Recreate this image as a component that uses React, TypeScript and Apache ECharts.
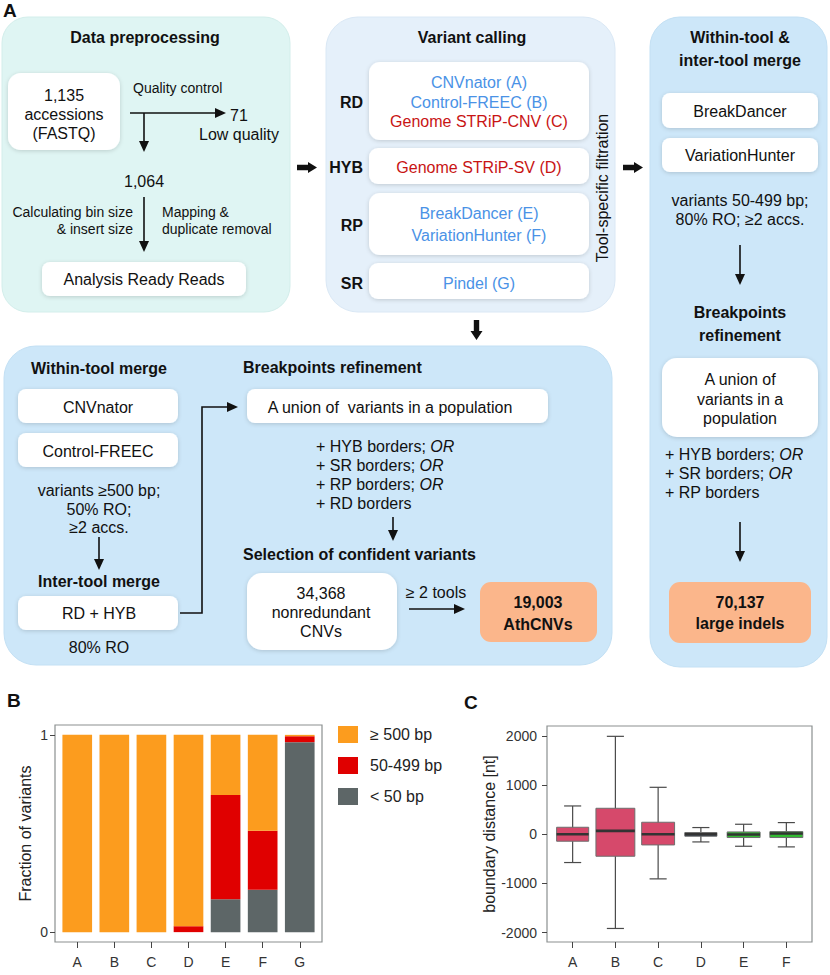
import React, { useEffect, useRef } from "react";
import * as echarts from "echarts";

// ---------- Panel B data ----------
const toolsB = ["A", "B", "C", "D", "E", "F", "G"];
const sizeClasses = ["≥ 500 bp", "50-499 bp", "< 50 bp"];
const fracGe500 = [1, 1, 1, 0.97, 0.305, 0.486, 0.007];
const frac50to499 = [0, 0, 0, 0.03, 0.528, 0.299, 0.03];
const fracLt50 = [0, 0, 0, 0, 0.167, 0.215, 0.963];
const fracTicks = [0, 1];

// ---------- Panel C data ----------
const toolsC = ["A", "B", "C", "D", "E", "F"];
const whiskerLow = [-575, -1915, -907, -156, -244, -257];
const quart1 = [-142, -447, -217, -40, -67, -67];
const medians = [0, 68, 0, 0, -5, 15];
const quart3 = [142, 528, 244, 35, 47, 54];
const whiskerHigh = [575, 1990, 954, 136, 203, 237];
const distTicks = [-2000, -1000, 0, 1000, 2000];

// ---------- styles ----------
const FONT = '"Liberation Sans", Arial, Helvetica, sans-serif';
const BLUE = "#4a92e6";
const RED = "#c81414";
const BAR_COLORS = ["#fc9c1e", "#e00000", "#5d6667"]; // same order as sizeClasses
const BOX_COLORS = ["#d6496b", "#d6496b", "#d6496b", "#3f4d5e", "#31bb31", "#31bb31"];
const BOX_WIDTH = [0.75, 0.91, 0.77, 0.75, 0.77, 0.77];
const BAR_WIDTH = 0.8;

type Opt = { size?: number; bold?: boolean; color?: string; align?: string; rot?: number; rich?: any };

function buildGraphics() {
  const g: any[] = [];
  const rect = (x: number, y: number, w: number, h: number, r: number, fill: string, z: number, extra: any = {}) =>
    g.push({ type: "rect", silent: true, z, shape: { x, y, width: w, height: h, r }, style: { fill, ...extra } });
  const white = (x: number, y: number, w: number, h: number, r = 9) =>
    rect(x, y, w, h, r, "#ffffff", 2, { shadowBlur: 4, shadowColor: "rgba(0,0,0,0.16)", shadowOffsetY: 1 });
  const txt = (text: string, x: number, y: number, o: Opt = {}) =>
    g.push({
      type: "text",
      silent: true,
      z: 5,
      x,
      y,
      rotation: o.rot ?? 0,
      style: {
        text,
        fill: o.color ?? "#111",
        fontSize: o.size ?? 16,
        fontWeight: o.bold ? "bold" : "normal",
        fontFamily: FONT,
        align: o.align ?? "center",
        verticalAlign: "middle",
        rich: o.rich,
      },
    });
  const ital = { i: { fontStyle: "italic", fontSize: 16, fontFamily: FONT, fill: "#111" } };
  const line = (pts: number[][], w = 1.6) =>
    g.push({ type: "polyline", silent: true, z: 4, shape: { points: pts }, style: { stroke: "#111", lineWidth: w, fill: null } });
  const poly = (pts: number[][]) =>
    g.push({ type: "polygon", silent: true, z: 4, shape: { points: pts }, style: { fill: "#111" } });
  const vArrow = (x: number, y1: number, y2: number) => {
    line([[x, y1], [x, y2 - 9]]);
    poly([[x - 5, y2 - 11], [x + 5, y2 - 11], [x, y2]]);
  };
  const hArrow = (x1: number, x2: number, y: number) => {
    line([[x1, y], [x2 - 9, y]]);
    poly([[x2 - 11, y - 5], [x2 - 11, y + 5], [x2, y]]);
  };
  const fatRight = (x1: number, x2: number, y: number) =>
    poly([[x1, y - 2.7], [x2 - 9, y - 2.7], [x2 - 9, y - 5.5], [x2, y], [x2 - 9, y + 5.5], [x2 - 9, y + 2.7], [x1, y + 2.7]]);
  const fatDown = (x: number, y1: number, y2: number) =>
    poly([[x - 2.7, y1], [x + 2.7, y1], [x + 2.7, y2 - 9], [x + 6, y2 - 9], [x, y2], [x - 6, y2 - 9], [x - 2.7, y2 - 9]]);

  // panel letters
  txt("A", 3, 10, { bold: true, size: 19, align: "left" });
  txt("B", 7, 700, { bold: true, size: 19, align: "left" });
  txt("C", 464, 702, { bold: true, size: 19, align: "left" });

  // ---- Data preprocessing ----
  rect(2, 17, 288, 295, 26, "#dff5f3", 1, { stroke: "#d3eeeb", lineWidth: 1 });
  txt("Data preprocessing", 145, 37, { bold: true });
  white(8, 73, 112, 77, 13);
  txt("1,135", 64, 95);
  txt("accessions", 64, 114);
  txt("(FASTQ)", 64, 133);
  txt("Quality control", 133, 88, { size: 14, align: "left" });
  hArrow(130, 226, 113);
  txt("71", 230, 115, { align: "left" });
  txt("Low quality", 199, 134, { align: "left" });
  vArrow(144, 113, 152);
  txt("1,064", 144, 181);
  vArrow(144, 197, 252);
  txt("Calculating bin size", 133, 212, { size: 14, align: "right" });
  txt("& insert size", 133, 229, { size: 14, align: "right" });
  txt("Mapping &", 162, 212, { size: 14, align: "left" });
  txt("duplicate removal", 162, 229, { size: 14, align: "left" });
  white(42, 262, 204, 34, 8);
  txt("Analysis Ready Reads", 144, 279);

  fatRight(297, 317, 167.5);

  // ---- Variant calling ----
  rect(326, 17, 289, 295, 32, "#e5f0fa", 1, { stroke: "#dae8f5", lineWidth: 1 });
  txt("Variant calling", 472, 37, { bold: true });
  white(369, 62, 220, 78, 11);
  white(369, 148, 220, 36, 9);
  white(369, 193, 220, 62, 11);
  white(369, 263, 220, 36, 9);
  txt("RD", 363, 102, { bold: true, align: "right" });
  txt("HYB", 363, 167, { bold: true, align: "right" });
  txt("RP", 363, 225, { bold: true, align: "right" });
  txt("SR", 363, 283, { bold: true, align: "right" });
  txt("CNVnator (A)", 479, 82, { color: BLUE });
  txt("Control-FREEC (B)", 479, 102, { color: BLUE });
  txt("Genome STRiP-CNV (C)", 479, 121, { color: RED });
  txt("Genome STRiP-SV (D)", 479, 167, { color: RED });
  txt("BreakDancer (E)", 479, 213, { color: BLUE });
  txt("VariationHunter (F)", 479, 235, { color: BLUE });
  txt("Pindel (G)", 479, 283, { color: BLUE });
  txt("Tool-specific filtration", 602, 188, { rot: Math.PI / 2 });

  fatRight(623, 643, 167.5);
  fatDown(476.5, 320, 340);

  // ---- Right panel ----
  rect(650, 17, 177, 650, 30, "#cde7f9", 1, { stroke: "#c3e0f4", lineWidth: 1 });
  txt("Within-tool &", 740, 37, { bold: true });
  txt("inter-tool merge", 740, 60, { bold: true });
  white(662, 93, 156, 35, 8);
  txt("BreakDancer", 740, 111);
  white(662, 138, 156, 34, 8);
  txt("VariationHunter", 740, 155);
  txt("variants 50-499 bp;", 740, 200);
  txt("80% RO; ≥2 accs.", 740, 219);
  vArrow(740, 245, 285);
  txt("Breakpoints", 740, 312, { bold: true });
  txt("refinement", 740, 335, { bold: true });
  white(662, 358, 156, 79, 15);
  txt("A union of", 740, 379);
  txt("variants in a", 740, 399);
  txt("population", 740, 418);
  txt("+ HYB borders; {i|OR}", 665, 454, { align: "left", rich: ital });
  txt("+ SR borders; {i|OR}", 665, 473, { align: "left", rich: ital });
  txt("+ RP borders", 665, 492, { align: "left" });
  vArrow(740, 522, 562);
  rect(669, 582, 142, 61, 11, "#fbb68b", 2);
  txt("70,137", 740, 602, { bold: true });
  txt("large indels", 740, 623, { bold: true });

  // ---- Bottom-left panel ----
  rect(4, 346, 608, 319, 32, "#cde7f9", 1, { stroke: "#c3e0f4", lineWidth: 1 });
  txt("Within-tool merge", 99, 368, { bold: true });
  white(18, 389, 160, 34, 8);
  txt("CNVnator", 98, 407);
  white(18, 433, 160, 34, 8);
  txt("Control-FREEC", 98, 451);
  txt("variants ≥500 bp;", 99, 490);
  txt("50% RO;", 99, 509);
  txt("≥2 accs.", 99, 527);
  vArrow(99, 537, 570);
  txt("Inter-tool merge", 99, 581, { bold: true });
  white(18, 596, 160, 34, 8);
  txt("RD + HYB", 99, 613);
  txt("80% RO", 99, 647);
  line([[180, 613], [202, 613], [202, 407], [229, 407]]);
  poly([[227, 402], [227, 412], [238, 407]]);

  txt("Breakpoints refinement", 243, 367, { bold: true, align: "left" });
  white(247, 389, 301, 34, 8);
  txt("A union of  variants in a population", 390, 407);
  txt("+ HYB borders; {i|OR}", 316, 446, { align: "left", rich: ital });
  txt("+ SR borders; {i|OR}", 316, 465, { align: "left", rich: ital });
  txt("+ RP borders; {i|OR}", 316, 484, { align: "left", rich: ital });
  txt("+ RD borders", 316, 503, { align: "left" });
  vArrow(393, 517, 541);
  txt("Selection of confident variants", 243, 554, { bold: true, align: "left" });
  white(247, 573, 150, 77, 15);
  txt("34,368", 321, 593);
  txt("nonredundant", 321, 612);
  txt("CNVs", 321, 631);
  txt("≥ 2 tools", 436, 592);
  hArrow(409, 465, 609);
  rect(480, 582, 117, 60, 11, "#fbb68b", 2);
  txt("19,003", 538, 602, { bold: true });
  txt("AthCNVs", 538, 624, { bold: true });

  return g;
}

export default function App() {
  const ref = useRef<HTMLDivElement>(null);
  useEffect(() => {
    if (!ref.current) return;
    const chart = echarts.init(ref.current, undefined, { renderer: "svg" });

    const xB = toolsB.map((_, i) => i + 1);
    const xC = toolsC.map((_, i) => i + 1);
    const boxData = toolsC.map((_, i) => [i + 1, whiskerLow[i], quart1[i], medians[i], quart3[i], whiskerHigh[i]]);

    // stacked segments, bottom to top: < 50, 50-499, >= 500
    const stackOrder = [fracLt50, frac50to499, fracGe500];
    const segData = stackOrder.map((vals, s) =>
      xB.map((x, i) => {
        let base = 0;
        for (let k = 0; k < s; k++) base += stackOrder[k][i];
        return [x, base, base + vals[i]];
      })
    );
    const segNames = [sizeClasses[2], sizeClasses[1], sizeClasses[0]];
    const segColors = [BAR_COLORS[2], BAR_COLORS[1], BAR_COLORS[0]];

    const barSeries = segData.map((data, s) => ({
      name: segNames[s],
      type: "custom",
      xAxisIndex: 0,
      yAxisIndex: 0,
      itemStyle: { color: segColors[s] },
      encode: { x: 0, y: [1, 2] },
      data,
      renderItem: (_p: any, api: any) => {
        const x = api.value(0);
        const lo = api.coord([x, api.value(1)]);
        const hi = api.coord([x, api.value(2)]);
        const w = api.size([BAR_WIDTH, 0])[0];
        return {
          type: "rect",
          shape: { x: lo[0] - w / 2, y: hi[1], width: w, height: lo[1] - hi[1] },
          style: { fill: segColors[s] },
        };
      },
    }));

    const axisTxt = { fontSize: 14, color: "#333", fontFamily: FONT };
    const tick = { show: true, length: 6, lineStyle: { color: "#444", width: 1 } };

    const option: any = {
      animation: false,
      backgroundColor: "#ffffff",
      textStyle: { fontFamily: FONT },
      graphic: buildGraphics(),
      grid: [
        { left: 55, top: 725, width: 267, height: 217, show: true, borderColor: "#8b9090", borderWidth: 1.2, backgroundColor: "transparent" },
        { left: 547, top: 726, width: 265, height: 216, show: true, borderColor: "#8b9090", borderWidth: 1.2, backgroundColor: "transparent" },
      ],
      legend: {
        left: 338,
        top: 726,
        orient: "vertical",
        padding: 0,
        itemWidth: 20,
        itemHeight: 17,
        itemGap: 14,
        icon: "rect",
        selectedMode: false,
        data: sizeClasses,
        textStyle: { fontSize: 16, color: "#222", fontFamily: FONT, padding: [0, 0, 0, 7] },
      },
      xAxis: [
        {
          gridIndex: 0,
          type: "value",
          min: 0.4,
          max: 7.6,
          splitLine: { show: false },
          axisLine: { show: false, onZero: false },
          axisTick: { ...tick, customValues: xB },
          axisLabel: { ...axisTxt, margin: 13, customValues: xB, formatter: (v: number) => toolsB[Math.round(v) - 1] ?? "" },
        },
        {
          gridIndex: 1,
          type: "value",
          min: 0.4,
          max: 6.6,
          splitLine: { show: false },
          axisLine: { show: false, onZero: false },
          axisTick: { ...tick, customValues: xC },
          axisLabel: { ...axisTxt, margin: 13, customValues: xC, formatter: (v: number) => toolsC[Math.round(v) - 1] ?? "" },
        },
      ],
      yAxis: [
        {
          gridIndex: 0,
          type: "value",
          min: -0.05,
          max: 1.05,
          splitLine: { show: false },
          axisLine: { show: false, onZero: false },
          axisTick: { ...tick, length: 5, customValues: fracTicks },
          axisLabel: { ...axisTxt, margin: 7, customValues: fracTicks, formatter: (v: number) => String(v) },
          name: "Fraction of variants",
          nameLocation: "middle",
          nameGap: 22,
          nameTextStyle: { fontSize: 16, color: "#222", fontFamily: FONT },
        },
        {
          gridIndex: 1,
          type: "value",
          min: -2190,
          max: 2200,
          splitLine: { show: false },
          axisLine: { show: false, onZero: false },
          axisTick: { ...tick, length: 5, customValues: distTicks },
          axisLabel: { ...axisTxt, margin: 10, customValues: distTicks, formatter: (v: number) => String(v) },
          name: "boundary distance [nt]",
          nameLocation: "middle",
          nameGap: 49,
          nameTextStyle: { fontSize: 16, color: "#222", fontFamily: FONT },
        },
      ],
      series: [
        ...barSeries,
        {
          type: "custom",
          xAxisIndex: 1,
          yAxisIndex: 1,
          encode: { x: 0, y: [1, 2, 3, 4, 5] },
          data: boxData,
          renderItem: (params: any, api: any) => {
            const x = api.value(0);
            const lo = api.coord([x, api.value(1)]);
            const q1 = api.coord([x, api.value(2)]);
            const md = api.coord([x, api.value(3)]);
            const q3 = api.coord([x, api.value(4)]);
            const hi = api.coord([x, api.value(5)]);
            const unit = api.size([1, 0])[0];
            const bw = unit * BOX_WIDTH[params.dataIndex];
            const cw = unit * 0.4;
            const cx = lo[0];
            const ws = { stroke: "#4a4a4a", lineWidth: 1.2 };
            return {
              type: "group",
              children: [
                { type: "line", shape: { x1: cx, y1: hi[1], x2: cx, y2: lo[1] }, style: ws },
                { type: "line", shape: { x1: cx - cw / 2, y1: hi[1], x2: cx + cw / 2, y2: hi[1] }, style: ws },
                { type: "line", shape: { x1: cx - cw / 2, y1: lo[1], x2: cx + cw / 2, y2: lo[1] }, style: ws },
                {
                  type: "rect",
                  shape: { x: cx - bw / 2, y: q3[1], width: bw, height: q1[1] - q3[1] },
                  style: { fill: BOX_COLORS[params.dataIndex], stroke: "#6e6e6e", lineWidth: 1 },
                },
                { type: "line", shape: { x1: cx - bw / 2, y1: md[1], x2: cx + bw / 2, y2: md[1] }, style: { stroke: "#333", lineWidth: 2.6 } },
              ],
            };
          },
        },
      ],
    };
    chart.setOption(option);
    return () => chart.dispose();
  }, []);

  return (
    <div
      ref={ref}
      style={{ position: "absolute", left: 0, top: 0, width: 830, height: 975, background: "#fff" }}
    />
  );
}
